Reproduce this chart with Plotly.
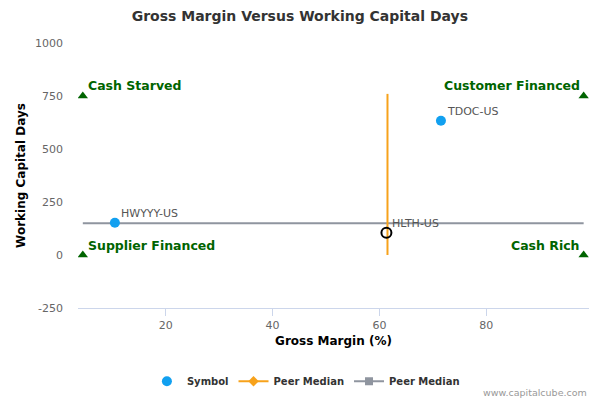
import plotly.graph_objects as go

# data
symbols = ["HWYYY-US", "TDOC-US"]
sym_gm = [10.5, 71.5]
sym_wcd = [152, 633]

subject = ["HLTH-US"]
subj_gm = [61.3]
subj_wcd = [105]

peer_gm_x = [61.5, 61.5]
peer_gm_y = [0, 760]
peer_wcd_x = [4.5, 98.2]
peer_wcd_y = [150, 150]

quad_left = ["Cash Starved", "Supplier Financed"]
quad_left_x = [4.5, 4.5]
quad_left_y = [750, 0]
quad_right = ["Customer Financed", "Cash Rich"]
quad_right_x = [98.2, 98.2]
quad_right_y = [750, 0]

x_ticks = [20, 40, 60, 80]
y_ticks = [-250, 0, 250, 500, 750, 1000]
y_tick_labels = ["-250", "0", "250", "500", "750", "1000"]

BLUE = "#12a0f0"
ORANGE = "#f7a21b"
GRAY = "#8f959f"
GREEN = "#006400"
FONT = "DejaVu Sans"

fig = go.Figure()

fig.add_trace(go.Scatter(x=peer_wcd_x, y=peer_wcd_y, mode="lines",
                         line=dict(color=GRAY, width=2), showlegend=False, hoverinfo="skip"))
fig.add_trace(go.Scatter(x=peer_gm_x, y=peer_gm_y, mode="lines",
                         line=dict(color=ORANGE, width=2), showlegend=False, hoverinfo="skip"))

fig.add_trace(go.Scatter(x=quad_left_x + quad_right_x, y=quad_left_y + quad_right_y,
                         mode="markers",
                         marker=dict(symbol="triangle-up", color=GREEN, size=9),
                         showlegend=False))

fig.add_trace(go.Scatter(x=sym_gm, y=sym_wcd, mode="markers",
                         marker=dict(color=BLUE, size=10), name="Symbol"))
fig.add_trace(go.Scatter(x=subj_gm, y=subj_wcd, mode="markers",
                         marker=dict(color="rgba(0,0,0,0)", size=10,
                                     line=dict(color="black", width=2)),
                         showlegend=False))

fig.add_trace(go.Scatter(x=[None], y=[None], mode="lines+markers", name="Peer Median",
                         line=dict(color=ORANGE, width=2),
                         marker=dict(symbol="diamond", color=ORANGE, size=8)))
fig.add_trace(go.Scatter(x=[None], y=[None], mode="lines+markers", name="Peer Median",
                         line=dict(color=GRAY, width=2),
                         marker=dict(symbol="square", color=GRAY, size=8)))

annotations = []
for t, x, y in zip(quad_left, quad_left_x, quad_left_y):
    annotations.append(dict(text="<b>%s</b>" % t, x=x, y=y, xref="x", yref="y",
                            xanchor="left", yanchor="middle", xshift=3,
                            yshift=11 if y > 0 else 10, showarrow=False,
                            font=dict(size=12.5, color=GREEN, family=FONT)))
for t, x, y in zip(quad_right, quad_right_x, quad_right_y):
    annotations.append(dict(text="<b>%s</b>" % t, x=x, y=y, xref="x", yref="y",
                            xanchor="right", yanchor="middle", xshift=-2,
                            yshift=11 if y > 0 else 10, showarrow=False,
                            font=dict(size=12.5, color=GREEN, family=FONT)))
for t, x, y in zip(symbols + subject, sym_gm + subj_gm, sym_wcd + subj_wcd):
    annotations.append(dict(text=t, x=x, y=y, xref="x", yref="y",
                            xanchor="left", yanchor="middle", xshift=4, yshift=9,
                            showarrow=False,
                            font=dict(size=11, color="#555555", family=FONT)))
annotations.append(dict(text="www.capitalcube.com", xref="paper", yref="paper",
                        x=1.0, xanchor="right", y=-0.318, yanchor="middle",
                        showarrow=False, font=dict(size=9.5, color="#999999", family=FONT)))

fig.update_layout(
    width=592, height=392,
    margin=dict(l=70, r=11, t=35, b=92, autoexpand=False),
    paper_bgcolor="white", plot_bgcolor="white",
    font=dict(family=FONT, color="#666666", size=11),
    title=dict(text="<b>Gross Margin Versus Working Capital Days</b>",
               x=0.493, xanchor="center", xref="container", y=0.98, yanchor="middle",
               font=dict(size=14, color="#333333", family=FONT)),
    xaxis=dict(range=[3.6, 99.2], tickvals=x_ticks, showgrid=False, zeroline=False,
               showline=True, linecolor="#ccd6eb", linewidth=1,
               ticks="outside", tickcolor="#ccd6eb", ticklen=7, automargin=False,
               tickfont=dict(size=11, color="#666666"),
               title=dict(text="<b>Gross Margin (%)</b>", standoff=5,
                          font=dict(size=12, color="#000000"))),
    yaxis=dict(range=[-250, 1000], tickvals=y_ticks, ticktext=y_tick_labels,
               showgrid=False, zeroline=False, ticklabelstandoff=14, automargin=False,
               showline=False, ticks="", tickfont=dict(size=11, color="#666666"),
               title=dict(text="<b>Working Capital Days</b>", standoff=6,
                          font=dict(size=12, color="#000000"))),
    legend=dict(orientation="h", x=0.446, xanchor="center", y=-0.2766, yanchor="middle",
                font=dict(size=10, color="#333333", family=FONT, weight="bold"),
                itemwidth=30),
    annotations=annotations,
)

fig.write_html("out.html")
